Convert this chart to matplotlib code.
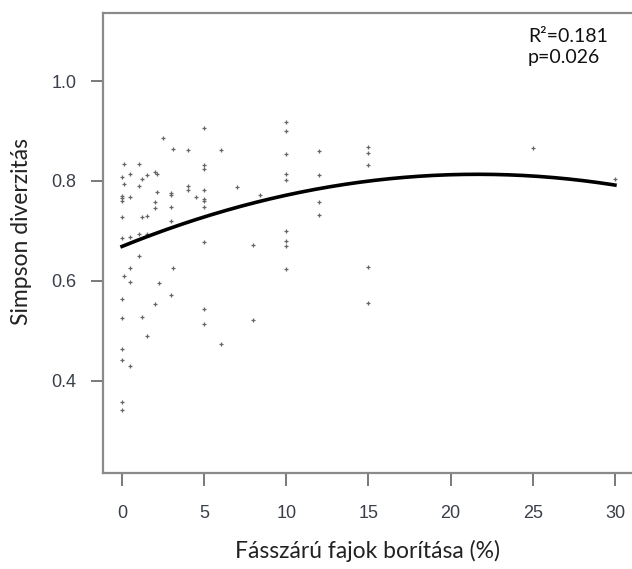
import numpy as np
import matplotlib.pyplot as plt

plt.rcParams['font.family'] = ['Liberation Sans', 'DejaVu Sans']

# Pontok: (fásszárú borítás %, Simpson diverzitás)
x0 = [0] * 12
y0 = [0.807, 0.770, 0.765, 0.760, 0.728, 0.685, 0.564, 0.525, 0.463, 0.442, 0.358, 0.341]
x_rest = [0.1, 0.1, 0.1,
          0.5, 0.5, 0.5, 0.5, 0.5, 0.5,
          1, 1, 1, 1,
          1.2, 1.2, 1.2,
          1.5, 1.5, 1.5, 1.5,
          2, 2, 2, 2, 2.1, 2.1, 2.25, 2.5,
          3, 3, 3, 3, 3, 3.1, 3.1,
          4, 4, 4, 4.5,
          5, 5, 5, 5, 5, 5, 5, 5, 5, 5,
          6, 6, 7, 8, 8, 8.4,
          10, 10, 10, 10, 10, 10, 10, 10, 10,
          12, 12, 12, 12,
          15, 15, 15, 15, 15,
          25, 30]
y_rest = [0.835, 0.794, 0.609,
          0.814, 0.767, 0.687, 0.625, 0.597, 0.430,
          0.834, 0.789, 0.694, 0.649,
          0.804, 0.728, 0.527,
          0.811, 0.730, 0.694, 0.490,
          0.818, 0.758, 0.746, 0.554, 0.815, 0.777, 0.596, 0.887,
          0.775, 0.772, 0.747, 0.720, 0.571, 0.865, 0.625,
          0.863, 0.789, 0.782, 0.767,
          0.907, 0.832, 0.825, 0.782, 0.764, 0.760, 0.747, 0.677, 0.544, 0.513,
          0.863, 0.473, 0.787, 0.672, 0.521, 0.772,
          0.919, 0.901, 0.855, 0.814, 0.801, 0.699, 0.680, 0.670, 0.623,
          0.860, 0.811, 0.757, 0.732,
          0.869, 0.857, 0.833, 0.628, 0.555,
          0.867, 0.804]
xs = x0 + x_rest
ys = y0 + y_rest

# Illesztett görbe leolvasott pontjai
curve_x = [0, 5, 10, 15, 20, 25, 30]
curve_y = [0.669, 0.728, 0.772, 0.800, 0.812, 0.810, 0.792]

fig = plt.figure(figsize=(6.32, 5.69), dpi=100)
ax = fig.add_axes([0.163, 0.169, 0.837, 0.808])

ax.scatter(xs, ys, marker='+', s=12, color='#666666', linewidths=0.9, zorder=2)

coef = np.polyfit(curve_x, curve_y, 2)
xx = np.linspace(0, 30, 200)
ax.plot(xx, np.polyval(coef, xx), color='black', linewidth=2.6, zorder=3)

ax.set_xlim(-1.16, 31.04)
ax.set_ylim(0.216, 1.136)
ax.set_xticks([0, 5, 10, 15, 20, 25, 30])
ax.set_yticks([0.4, 0.6, 0.8, 1.0])
ax.set_yticklabels(['0.4', '0.6', '0.8', '1.0'])

for s in ['left', 'bottom', 'top']:
    ax.spines[s].set_color('#8a8a8a')
    ax.spines[s].set_linewidth(1.6)
ax.spines['right'].set_visible(False)

ax.tick_params(axis='both', direction='out', length=9, width=1.1, color='#555555',
               labelcolor='#3a3f4a', labelsize=13)
ax.tick_params(axis='x', pad=14)
ax.tick_params(axis='y', pad=10)

ax.set_xlabel('Fásszárú fajok borítása (%)', fontsize=16.5, family='Lato',
              color='#222222', labelpad=13)
ax.set_ylabel('Simpson diverzitás', fontsize=16.5, family='Lato',
              color='#222222')
ax.yaxis.set_label_coords(-0.135, 0.525)

ax.text(0.803, 0.968, 'R²=0.181\np=0.026', transform=ax.transAxes, fontsize=14,
        family='Lato', color='#111111', va='top', ha='left', linespacing=1.3)

fig.savefig('out.png', dpi=100)
